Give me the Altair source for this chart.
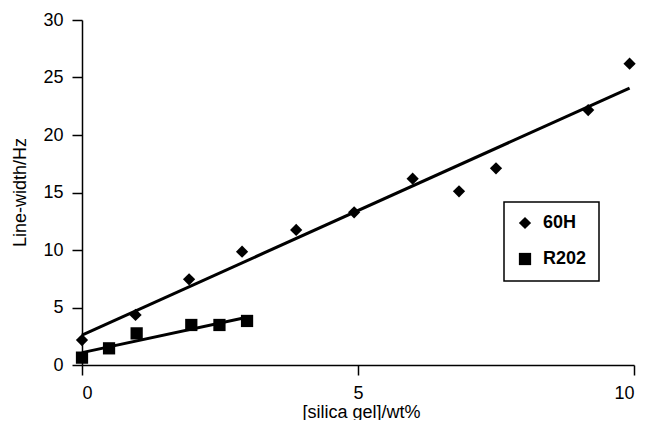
import altair as alt
import pandas as pd

# 60H series
x_60h = [0.0, 0.97, 1.94, 2.9, 3.88, 4.93, 5.99, 6.83, 7.5, 9.17, 9.92]
y_60h = [2.17, 4.35, 7.45, 9.85, 11.74, 13.28, 16.2, 15.1, 17.1, 22.17, 26.2]
# R202 series
x_r202 = [0.0, 0.49, 0.99, 1.98, 2.49, 2.99]
y_r202 = [0.64, 1.45, 2.75, 3.48, 3.48, 3.83]

series_names = ["60H", "R202"]
x_ticks = [0, 5, 10]
y_ticks = [0, 5, 10, 15, 20, 25, 30]

df = pd.DataFrame(
    {
        "x": x_60h + x_r202,
        "y": y_60h + y_r202,
        "series": [series_names[0]] * len(x_60h) + [series_names[1]] * len(x_r202),
    }
)

FONT = "Liberation Sans"

xscale = alt.Scale(domain=[0, 10], nice=False, zero=True)
yscale = alt.Scale(domain=[0, 30], nice=False, zero=True)

xaxis = alt.Axis(
    values=x_ticks,
    title="[silica gel]/wt%",
    titleX=279,
    titleY=52,
    titleAlign="center",
    titleBaseline="alphabetic",
)
yaxis = alt.Axis(
    values=y_ticks,
    title="Line-width/Hz",
    titleX=-57,
    titleY=172,
    titleAngle=-90,
    titleAlign="center",
    titleBaseline="alphabetic",
)

points = (
    alt.Chart(df)
    .mark_point(filled=True, color="black", opacity=1, size=150)
    .encode(
        x=alt.X("x:Q", scale=xscale, axis=xaxis),
        y=alt.Y("y:Q", scale=yscale, axis=yaxis),
        shape=alt.Shape(
            "series:N",
            scale=alt.Scale(domain=series_names, range=["diamond", "square"]),
            legend=alt.Legend(
                title=None,
                orient="none",
                legendX=422,
                legendY=182,
                strokeColor="black",
                fillColor="white",
                padding=12,
                cornerRadius=0,
                labelFont=FONT,
                labelFontSize=18,
                labelFontWeight="bold",
                labelColor="black",
                labelOffset=9,
                symbolSize=150,
                symbolFillColor="black",
                symbolStrokeColor="black",
                rowPadding=16,
            ),
        ),
    )
)

lines = (
    alt.Chart(df)
    .transform_regression("x", "y", groupby=["series"])
    .mark_line(color="black", strokeWidth=3)
    .encode(
        x=alt.X("x:Q", scale=xscale),
        y=alt.Y("y:Q", scale=yscale),
        detail="series:N",
    )
)

chart = (
    alt.layer(lines, points)
    .properties(
        width=552,
        height=345,
        autosize=alt.AutoSizeParams(type="none"),
        padding={"left": 74, "top": 12, "right": 8, "bottom": 55},
    )
    .configure_view(stroke=None)
    .configure_axis(
        grid=False,
        domainColor="black",
        domainWidth=1.5,
        tickColor="black",
        tickWidth=1.5,
        tickSize=10,
        labelFont=FONT,
        labelFontSize=18,
        labelColor="black",
        labelPadding=9,
        titleFont=FONT,
        titleFontSize=18,
        titleFontWeight="normal",
        titleColor="black",
    )
    .configure_legend(strokeWidth=1.5)
)

chart.save("out.html", embed_options={"renderer": "svg", "actions": False})
